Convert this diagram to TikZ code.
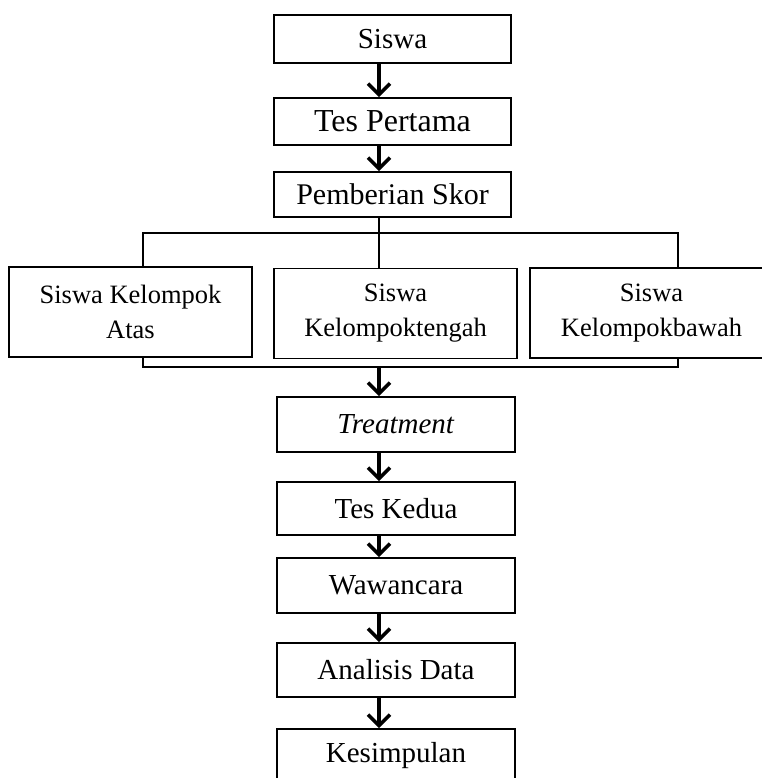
\documentclass[tikz,border=0pt]{standalone}
\usepackage{fontspec}
\setmainfont{Liberation Serif}
\usepackage{tikz}
\usetikzlibrary{positioning,arrows.meta}

\begin{document}
\begin{tikzpicture}[
  x=1pt, y=-1pt,
  font=\fontsize{29}{34}\selectfont,
  box/.style={draw, line width=1.7pt, minimum width=237pt,
              minimum height=48pt, inner sep=0pt},
  wbox/.style={box, minimum width=238pt, minimum height=54pt},
  grp/.style={box, minimum width=243pt, minimum height=90pt,
              align=center, font=\fontsize{26.5}{35}\selectfont},
  arr/.style={line width=3.2pt,
              -{Straight Barb[length=11pt, width=22pt, line width=3.6pt]}},
  bus/.style={line width=1.7pt},
]
\useasboundingbox (0,0) rectangle (761,778);

% top chain
\node[box] (siswa) at (392.5,39) {Siswa};
\node[box, minimum height=47pt, font=\fontsize{32}{38}\selectfont]
  (tes1) at (392.5,121.5) {Tes Pertama};
\node[box, minimum height=45pt, font=\fontsize{30}{35}\selectfont]
  (skor) at (392.5,194.5) {Pemberian Skor};
\coordinate (ax) at (379,0);
\foreach \a/\b in {siswa/tes1, tes1/skor} {
  \draw[arr] (\a.south -| ax) -- (\b.north -| ax);
}

% groups
\node[grp] (atas) at (130.5,312) {Siswa Kelompok\\Atas};
\node[grp] (tengah) at (395.5,313.5) {Siswa\\Kelompoktengah};
\node[grp] (bawah) at (651.5,313) {Siswa\\Kelompokbawah};
\coordinate (bl) at (143,233);
\coordinate (br) at (678,233);
\coordinate (cl) at (143,367);
\coordinate (cr) at (678,367);
\draw[bus] (skor.south -| ax) -- (tengah.north -| ax);
\draw[bus] (atas.north -| bl) -- (bl) -- (br) -- (bawah.north -| br);
\draw[bus] (atas.south -| cl) -- (cl) -- (cr) -- (bawah.south -| cr);

% bottom chain
\node[wbox, minimum height=55pt] (treat) at (396,424.5) {\textit{Treatment}};
\node[wbox, minimum height=53pt] (tes2) at (396,508.5) {Tes Kedua};
\node[wbox, minimum height=55pt] (wawan) at (396,585.5) {Wawancara};
\node[wbox] (anal) at (396,670) {Analisis Data};
\node[wbox] (simpul) at (396,756) {Kesimpulan};
\draw[arr] (cl -| ax) -- (treat.north -| ax);
\foreach \a/\b in {treat/tes2, tes2/wawan, wawan/anal, anal/simpul} {
  \draw[arr] (\a.south -| ax) -- (\b.north -| ax);
}
\end{tikzpicture}
\end{document}
